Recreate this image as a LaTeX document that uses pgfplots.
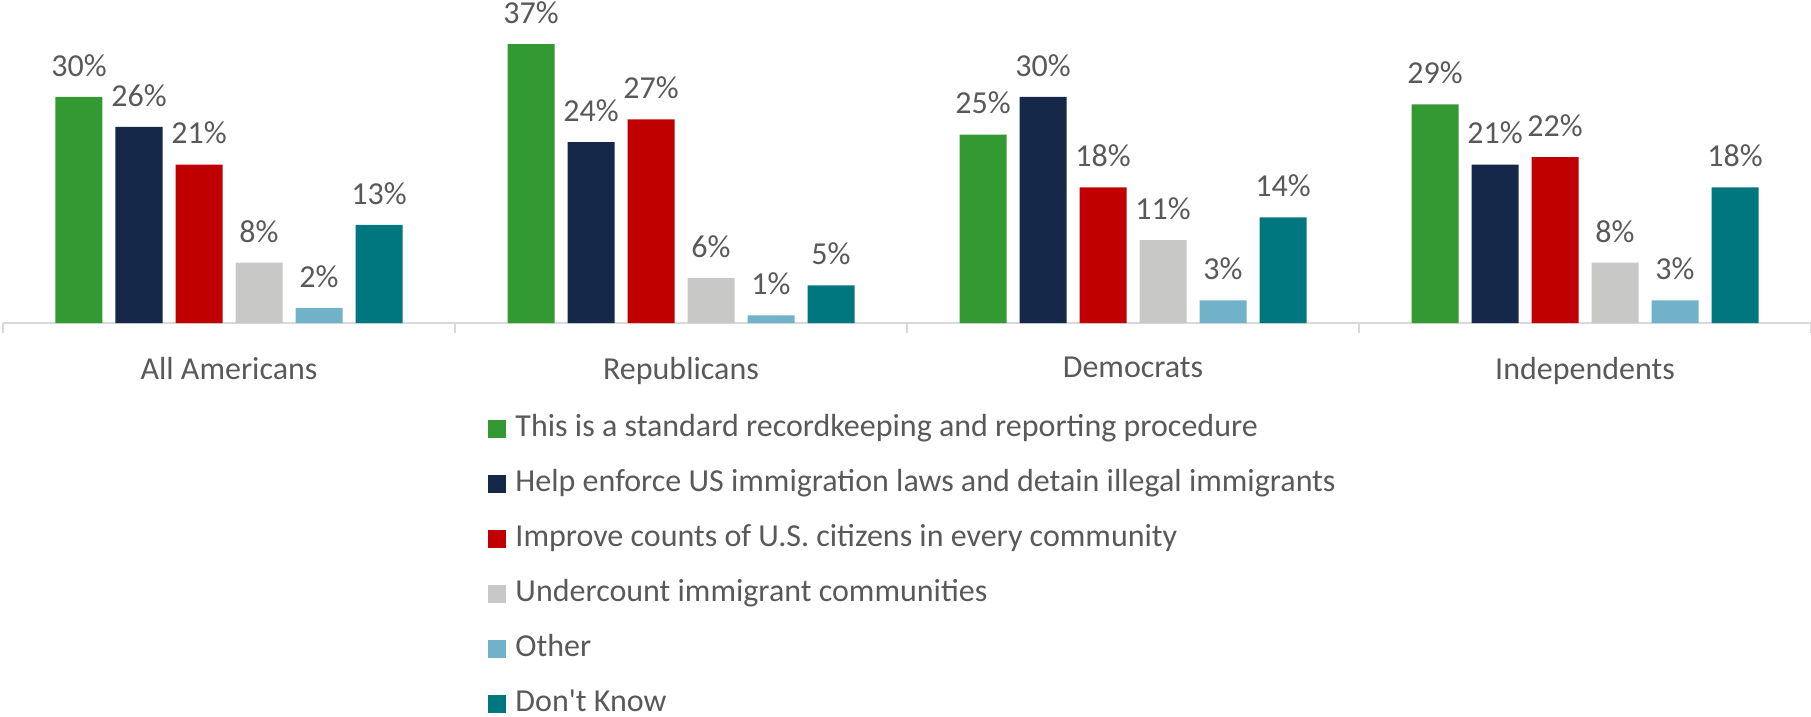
\documentclass[border=0pt]{standalone}
\usepackage{fontspec}
\setmainfont{Carlito}[Ligatures=TeXOff]
\usepackage{pgfplots}
\pgfplotsset{compat=1.18}

\definecolor{cgreen}{HTML}{339933}
\definecolor{cnavy}{HTML}{16284A}
\definecolor{cred}{HTML}{C00000}
\definecolor{cgray}{HTML}{C8C8C6}
\definecolor{clblue}{HTML}{71B2C9}
\definecolor{cteal}{HTML}{00767F}
\definecolor{ctext}{HTML}{595959}
\definecolor{caxis}{HTML}{D9D9D9}

\begin{document}
\begin{tikzpicture}
\begin{axis}[
    scale only axis,
    width=904pt,
    height=150.8pt,
    ybar=6.5pt,
    bar width=23.5pt,
    xmin=-0.5, xmax=3.5,
    ymin=0, ymax=40,
    enlargelimits=false,
    axis y line=none,
    axis x line*=bottom,
    x axis line style={draw=caxis, line width=1pt, -},
    xtick={0,1,2,3},
    xticklabels={All Americans, Republicans, Democrats, Independents},
    major tick length=0pt,
    extra x ticks={-0.5,0.5,1.5,2.5,3.5},
    extra x tick labels={},
    extra x tick style={major tick length=5pt, tick align=outside,
        major tick style={draw=caxis, line width=1pt}},
    xticklabel style={font=\fontsize{16}{19}\selectfont, text=ctext, yshift=-13.5pt},
    /pgf/number format/assume math mode=true,
    point meta=y,
    nodes near coords={\pgfmathprintnumber{\pgfplotspointmeta}\%},
    every node near coord/.append style={font=\fontsize{16}{19}\selectfont,
        text=ctext, anchor=south, inner sep=0pt, yshift=10pt},
    clip=false,
    legend cell align=left,
    legend style={draw=none, fill=none, at={(0.2683,-0.30)}, anchor=north west,
        font=\fontsize{16}{19}\selectfont, text=ctext,
        row sep=12.5pt, inner sep=0pt,
        nodes={inner sep=0pt, text height=11.5pt, text depth=3.5pt},
        column sep=4.5pt},
    legend image code/.code={\fill[#1] (0pt,-4.5pt) rectangle (9pt,4.5pt);},
]
\addplot[fill=cgreen, draw=none] coordinates {(0,30) (1,37) (2,25) (3,29)};
\addlegendentry{This is a standard recordkeeping and reporting procedure}
\addplot[fill=cnavy, draw=none] coordinates {(0,26) (1,24) (2,30) (3,21)};
\addlegendentry{Help enforce US immigration laws and detain illegal immigrants}
\addplot[fill=cred, draw=none] coordinates {(0,21) (1,27) (2,18) (3,22)};
\addlegendentry{Improve counts of U.S. citizens in every community}
\addplot[fill=cgray, draw=none] coordinates {(0,8) (1,6) (2,11) (3,8)};
\addlegendentry{Undercount immigrant communities}
\addplot[fill=clblue, draw=none] coordinates {(0,2) (1,1) (2,3) (3,3)};
\addlegendentry{Other}
\addplot[fill=cteal, draw=none] coordinates {(0,13) (1,5) (2,14) (3,18)};
\addlegendentry{Don't Know}
\end{axis}
\pgfresetboundingbox
\path[use as bounding box] (-1.5pt,-197pt) rectangle (904pt,161.5pt);
\end{tikzpicture}
\end{document}
